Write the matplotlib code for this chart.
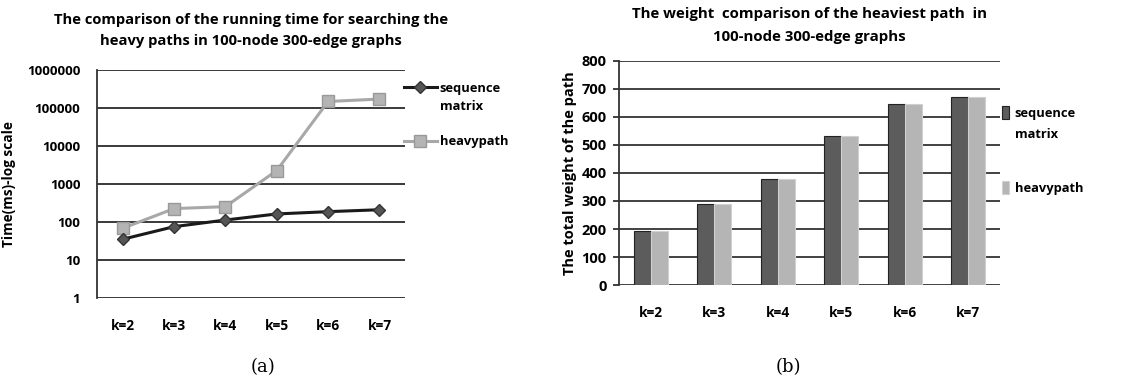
import matplotlib
matplotlib.use("Agg")
import matplotlib.pyplot as plt
import numpy as np

# data
categories = ["k=2", "k=3", "k=4", "k=5", "k=6", "k=7"]
time_seq_matrix = [35, 75, 112, 162, 186, 209]
time_heavypath = [68, 224, 252, 2240, 147000, 170000]
weight_seq_matrix = [192, 290, 377, 531, 645, 670]
weight_heavypath = [192, 290, 377, 531, 645, 670]
log_ticks = [1, 10, 100, 1000, 10000, 100000, 1000000]
weight_ticks = [0, 100, 200, 300, 400, 500, 600, 700, 800]

plt.rcParams["font.family"] = ["Open Sans", "DejaVu Sans"]
plt.rcParams["font.weight"] = "bold"

fig = plt.figure(figsize=(11.33, 3.9), dpi=100)
x = np.arange(len(categories))


def add_second_line(fig, leg, text, dy_px, fontsize):
    """Pone la segunda línea de la primera entrada de la leyenda debajo."""
    fig.canvas.draw()
    bb = leg.get_texts()[0].get_window_extent()
    fig.text(bb.x0 / fig.bbox.width, (bb.y0 - dy_px) / fig.bbox.height,
             text, fontsize=fontsize, fontweight="bold", ha="left", va="bottom")


# ── (a) running time, log scale ─────────────────────────────────────────
ax1 = fig.add_axes([0.0856, 0.236, 0.272, 0.585])
ax1.set_yscale("log")
ax1.set_ylim(1, 1000000)
ax1.set_xlim(-0.5, len(categories) - 0.5)
ax1.set_yticks(log_ticks)
ax1.set_yticklabels([str(t) for t in log_ticks])
ax1.minorticks_off()
ax1.yaxis.grid(True, color="#2a2a2a", linewidth=1.3)
ax1.set_axisbelow(True)
for s in ["top", "right", "bottom"]:
    ax1.spines[s].set_visible(False)
ax1.spines["left"].set_color("#333333")
ax1.spines["left"].set_linewidth(1.3)
ax1.tick_params(axis="y", length=0, pad=12, labelsize=9.6)
ax1.tick_params(axis="x", length=0, pad=15, labelsize=9.8)
ax1.set_xticks(x)
ax1.set_xticklabels(categories)

ax1.plot(x, time_seq_matrix, "-D", color="#1a1a1a", linewidth=2.2,
         markersize=6.5, markerfacecolor="#555555", markeredgecolor="#333333",
         label="sequence", zorder=4)
ax1.plot(x, time_heavypath, "-s", color="#a8a8a8", linewidth=2.2,
         markersize=9, markerfacecolor="#b4b4b4", markeredgecolor="#999999",
         label="heavypath", zorder=3)
ax1.set_ylabel("Time(ms)-log scale", fontsize=9.8, fontweight="bold", labelpad=8)
ax1.set_title("The comparison of the running time for searching the\n"
              "heavy paths in 100-node 300-edge graphs",
              fontsize=10.6, fontweight="bold", pad=18, linespacing=1.6)
leg1 = ax1.legend(loc="upper left", bbox_to_anchor=(0.995, 0.948), frameon=False,
                  fontsize=9.3, handlelength=2.6, handletextpad=0.2,
                  labelspacing=3.15, borderaxespad=0, borderpad=0)
fig.text(0.232, 0.045, "(a)", fontsize=13, family="DejaVu Serif",
         fontweight="normal", ha="center")

# ── (b) weight comparison, bars ─────────────────────────────────────────
ax2 = fig.add_axes([0.5463, 0.269, 0.3363, 0.575])
w = 0.27
ax2.bar(x - w / 2, weight_seq_matrix, w, color="#5c5c5c",
        edgecolor="#222222", linewidth=0.8, label="sequence", zorder=3)
ax2.bar(x + w / 2, weight_heavypath, w, color="#b5b5b5",
        edgecolor="#d0d0d0", linewidth=0.8, label="heavypath", zorder=3)
ax2.set_ylim(0, 800)
ax2.set_xlim(-0.5, len(categories) - 0.5)
ax2.set_yticks(weight_ticks)
ax2.yaxis.grid(True, color="#333333", linewidth=1.3)
ax2.set_axisbelow(True)
for s in ["top", "right", "bottom"]:
    ax2.spines[s].set_visible(False)
ax2.spines["left"].set_color("#333333")
ax2.spines["left"].set_linewidth(1.3)
ax2.tick_params(axis="y", length=4, width=1.3, color="#333333", pad=5,
                labelsize=10.5)
ax2.tick_params(axis="x", length=0, pad=15, labelsize=9.8)
ax2.set_xticks(x)
ax2.set_xticklabels(categories)
ax2.set_ylabel("The total weight of the path", fontsize=10.5, fontweight="bold",
               labelpad=3)
ax2.set_title("The weight  comparison of the heaviest path  in\n"
              "100-node 300-edge graphs",
              fontsize=10.8, fontweight="bold", pad=14, linespacing=1.85)
leg2 = ax2.legend(loc="upper left", bbox_to_anchor=(1.005, 0.80), frameon=False,
                  fontsize=9.3, handlelength=0.55, handleheight=1.2,
                  handletextpad=0.45, labelspacing=4.75, borderaxespad=0,
                  borderpad=0)
fig.text(0.696, 0.045, "(b)", fontsize=13, family="DejaVu Serif",
         fontweight="normal", ha="center")

add_second_line(fig, leg1, "matrix", 18, 9.3)
add_second_line(fig, leg2, "matrix", 21, 9.3)

fig.savefig("out.png", dpi=100)
